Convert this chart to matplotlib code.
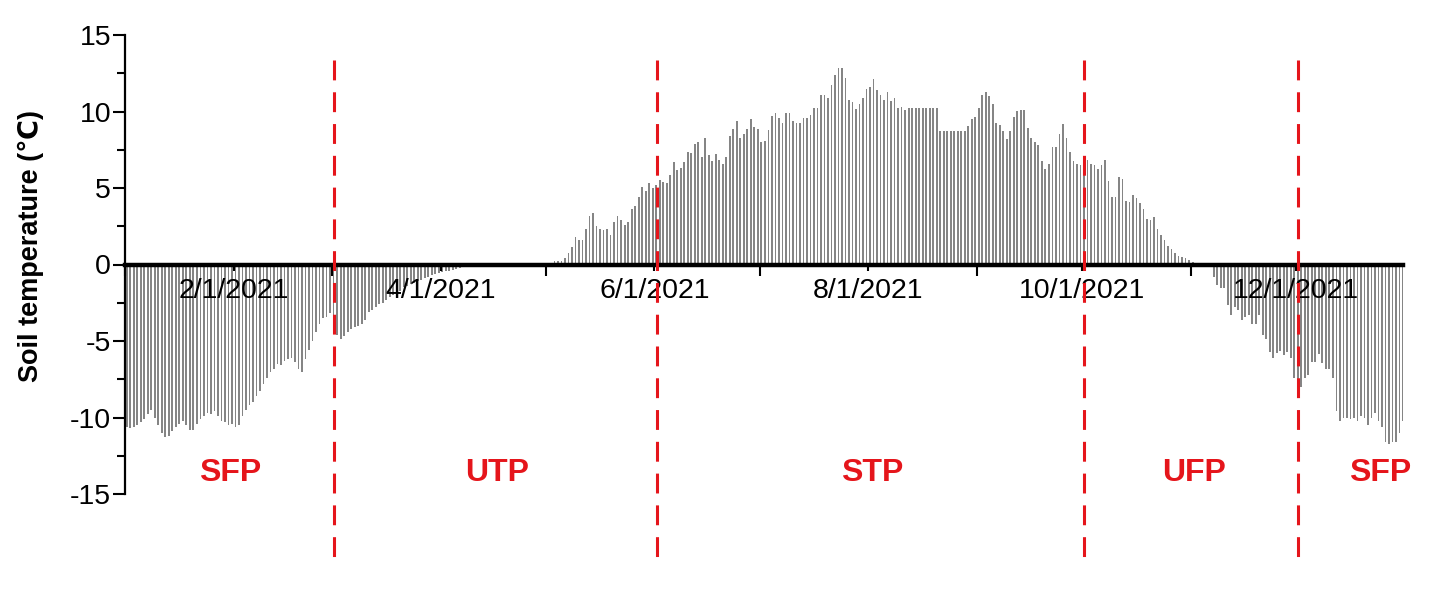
# ============================================
# Daily soil temperature, 2021 (freeze / thaw periods)
# ============================================

import numpy as np
import matplotlib
matplotlib.use("Agg")
import matplotlib.pyplot as plt
from matplotlib.ticker import MultipleLocator, FixedLocator, NullFormatter

# --------------------------------------------
# Data: daily soil temperature (deg C), one list per month
# --------------------------------------------
jan = [-10.6, -10.7, -10.6, -10.5, -10.3, -10.1, -9.8, -9.5, -10.0, -10.5,
       -11.0, -11.3, -11.2, -10.9, -10.6, -10.4, -10.2, -10.5, -10.8, -10.8,
       -10.4, -10.1, -9.9, -9.7, -9.8, -9.6, -9.9, -10.2, -10.3, -10.5, -10.4]
feb = [-10.6, -10.5, -9.9, -9.5, -9.2, -9.0, -8.6, -8.3, -7.8, -7.4,
       -7.0, -6.8, -6.5, -6.6, -6.3, -6.2, -6.1, -6.4, -6.8, -7.0,
       -6.2, -5.6, -5.0, -4.4, -3.9, -3.5, -3.4, -3.2]
mar = [-4.4, -4.6, -4.9, -4.7, -4.4, -4.2, -4.1, -4.0, -3.9, -3.6,
       -3.1, -3.0, -2.8, -2.6, -2.5, -2.3, -2.1, -2.0, -1.8, -1.7,
       -1.5, -1.4, -1.3, -1.2, -1.1, -1.0, -0.9, -0.8, -0.7, -0.6, -0.55]
apr = [-0.5, -0.45, -0.4, -0.35, -0.3, -0.25, 0, 0, 0, 0,
       0, 0, 0, 0, 0, 0, 0, 0, 0, 0,
       0, 0, 0, 0, 0, 0, 0, 0, 0, 0]
may = [0, 0, 0.26, 0.2, 0.26, 0.43, 0.74, 1.17, 1.78, 1.63,
       1.6, 2.33, 3.2, 3.35, 2.54, 2.33, 2.26, 2.3, 1.96, 2.8,
       3.15, 2.9, 2.6, 2.8, 3.6, 3.8, 4.4, 5.04, 4.83, 5.35, 5.0]
jun = [5.2, 5.5, 5.37, 5.3, 5.87, 6.7, 6.2, 6.3, 6.7, 7.37,
       7.3, 7.87, 8.0, 7.0, 8.26, 7.17, 6.76, 7.2, 6.8, 6.6,
       7.0, 8.4, 8.83, 9.35, 8.26, 8.54, 8.87, 9.48, 9.0, 8.87]
jul = [8.0, 8.1, 8.78, 9.7, 9.87, 9.57, 9.28, 9.9, 9.87, 9.4,
       9.24, 9.24, 9.6, 9.6, 9.78, 10.26, 10.2, 11.1, 11.1, 10.85,
       11.74, 12.4, 12.87, 12.83, 12.2, 10.76, 10.6, 10.15, 10.48, 10.9, 11.46]
aug = [11.6, 12.1, 11.4, 11.1, 10.76, 11.3, 10.7, 10.87, 10.26, 10.3,
       10.1, 10.2, 10.2, 10.2, 10.2, 10.2, 10.2, 10.2, 10.2, 10.2,
       8.74, 8.74, 8.74, 8.74, 8.74, 8.74, 8.74, 8.74, 9.07, 9.5, 9.65]
sep = [10.2, 11.1, 11.3, 11.0, 10.5, 9.28, 9.1, 8.74, 8.2, 8.74,
       9.67, 10.04, 10.09, 10.13, 8.9, 8.24, 7.98, 7.8, 6.74, 6.24,
       6.6, 7.7, 7.7, 8.5, 9.17, 8.3, 7.37, 6.78, 6.6, 6.5]
oct_ = [6.6, 6.8, 6.6, 6.5, 6.26, 6.5, 6.8, 5.43, 4.4, 4.4,
        5.7, 5.57, 4.15, 4.1, 4.57, 4.37, 4.04, 3.65, 3.0, 2.9,
        3.1, 2.35, 1.9, 1.6, 1.2, 1.0, 0.78, 0.54, 0.5, 0.4, 0.3]
nov = [0.17, 0.1, 0.05, 0, 0, 0, -0.8, -1.35, -1.56, -1.56,
       -2.65, -3.3, -2.8, -3.0, -3.65, -3.45, -3.3, -3.9, -3.9, -3.3,
       -4.6, -4.9, -5.7, -6.1, -5.8, -5.65, -5.9, -5.7, -6.1, -7.4]
dec = [-7.76, -8.0, -7.4, -7.2, -6.35, -6.35, -5.87, -6.45, -6.8, -6.8,
       -7.4, -9.6, -10.2, -10.0, -10.0, -10.1, -10.0, -10.2, -9.9, -10.0,
       -10.5, -10.0, -9.7, -10.26, -10.6, -11.6, -11.7, -11.6, -11.6, -11.0, -10.26]

# month start (day of year, 0 = Jan 1) and axis labels
month_start = [0, 31, 59, 90, 120, 151, 181, 212, 243, 273, 304, 334]
label_month_start = [31, 90, 151, 212, 273, 334]
tick_labels = ["2/1/2021", "4/1/2021", "6/1/2021", "8/1/2021", "10/1/2021", "12/1/2021"]

# period boundaries (day of year) and period names
boundaries = [59, 151, 273, 334]
phase_names = ["SFP", "UTP", "STP", "UFP", "SFP"]
phase_label_day = [30, 106, 213, 305, 358]

RED = "#E5151B"
FONT = ["Liberation Sans", "DejaVu Sans", "Noto Sans CJK SC"]


# --------------------------------------------
# Build daily series
# --------------------------------------------
def build_series():
    temp = np.array(jan + feb + mar + apr + may + jun + jul + aug + sep + oct_ + nov + dec)
    days = np.arange(len(temp)) + 0.5
    return days, temp


# --------------------------------------------
# Plot
# --------------------------------------------
def plot_soil_temperature(days, temp):
    plt.rcParams['font.family'] = FONT
    plt.rcParams['axes.unicode_minus'] = False

    fig = plt.figure(figsize=(14.41, 5.92), dpi=100)
    ax = fig.add_axes([125 / 1441, 1 - 494 / 592, 1278 / 1441, 459 / 592])

    ax.bar(days, temp, width=0.5, color="#858585", linewidth=0, zorder=1)

    ax.set_xlim(0, 364.5)
    ax.set_ylim(-15, 15)

    # spines
    ax.spines['top'].set_visible(False)
    ax.spines['right'].set_visible(False)
    ax.spines['left'].set_linewidth(1.6)
    ax.spines['bottom'].set_position(('data', 0))
    ax.spines['bottom'].set_linewidth(3.2)

    # y ticks
    ax.yaxis.set_major_locator(MultipleLocator(5))
    ax.yaxis.set_minor_locator(MultipleLocator(2.5))
    ax.tick_params(axis='y', which='major', length=9, width=1.5, labelsize=20.5, pad=1)
    ax.tick_params(axis='y', which='minor', length=5.5, width=1.5)

    # x ticks: labels on even months, longer unlabeled ticks on odd months
    ax.xaxis.set_major_locator(FixedLocator(label_month_start))
    ax.set_xticklabels(tick_labels)
    odd = [m for m in month_start if m not in label_month_start]
    ax.xaxis.set_minor_locator(FixedLocator(odd))
    ax.xaxis.set_minor_formatter(NullFormatter())
    ax.tick_params(axis='x', which='major', length=4, width=1.5, labelsize=20.5, pad=6)
    ax.tick_params(axis='x', which='minor', length=8, width=1.5)

    ax.set_ylabel("Soil temperature (\u2103)", fontsize=19.5, fontweight='bold')
    ax.yaxis.set_label_coords(-0.063, 0.54)

    # period boundaries
    trans = ax.get_xaxis_transform()
    for b in boundaries:
        ax.plot([b + 0.6, b + 0.6], [0.9455, -0.155], transform=trans, color=RED,
                linewidth=2.2, dashes=(6.5, 3.9), clip_on=False, zorder=3)

    for name, d in zip(phase_names, phase_label_day):
        ax.text(d, -13.6, name, color=RED, fontsize=23, fontweight='bold',
                ha='center', va='center', clip_on=False)

    fig.savefig("out.png", dpi=100)


# --------------------------------------------
# Main Function
# --------------------------------------------
def main():
    days, temp = build_series()
    print("Days:", len(temp))
    plot_soil_temperature(days, temp)


if __name__ == "__main__":
    main()
